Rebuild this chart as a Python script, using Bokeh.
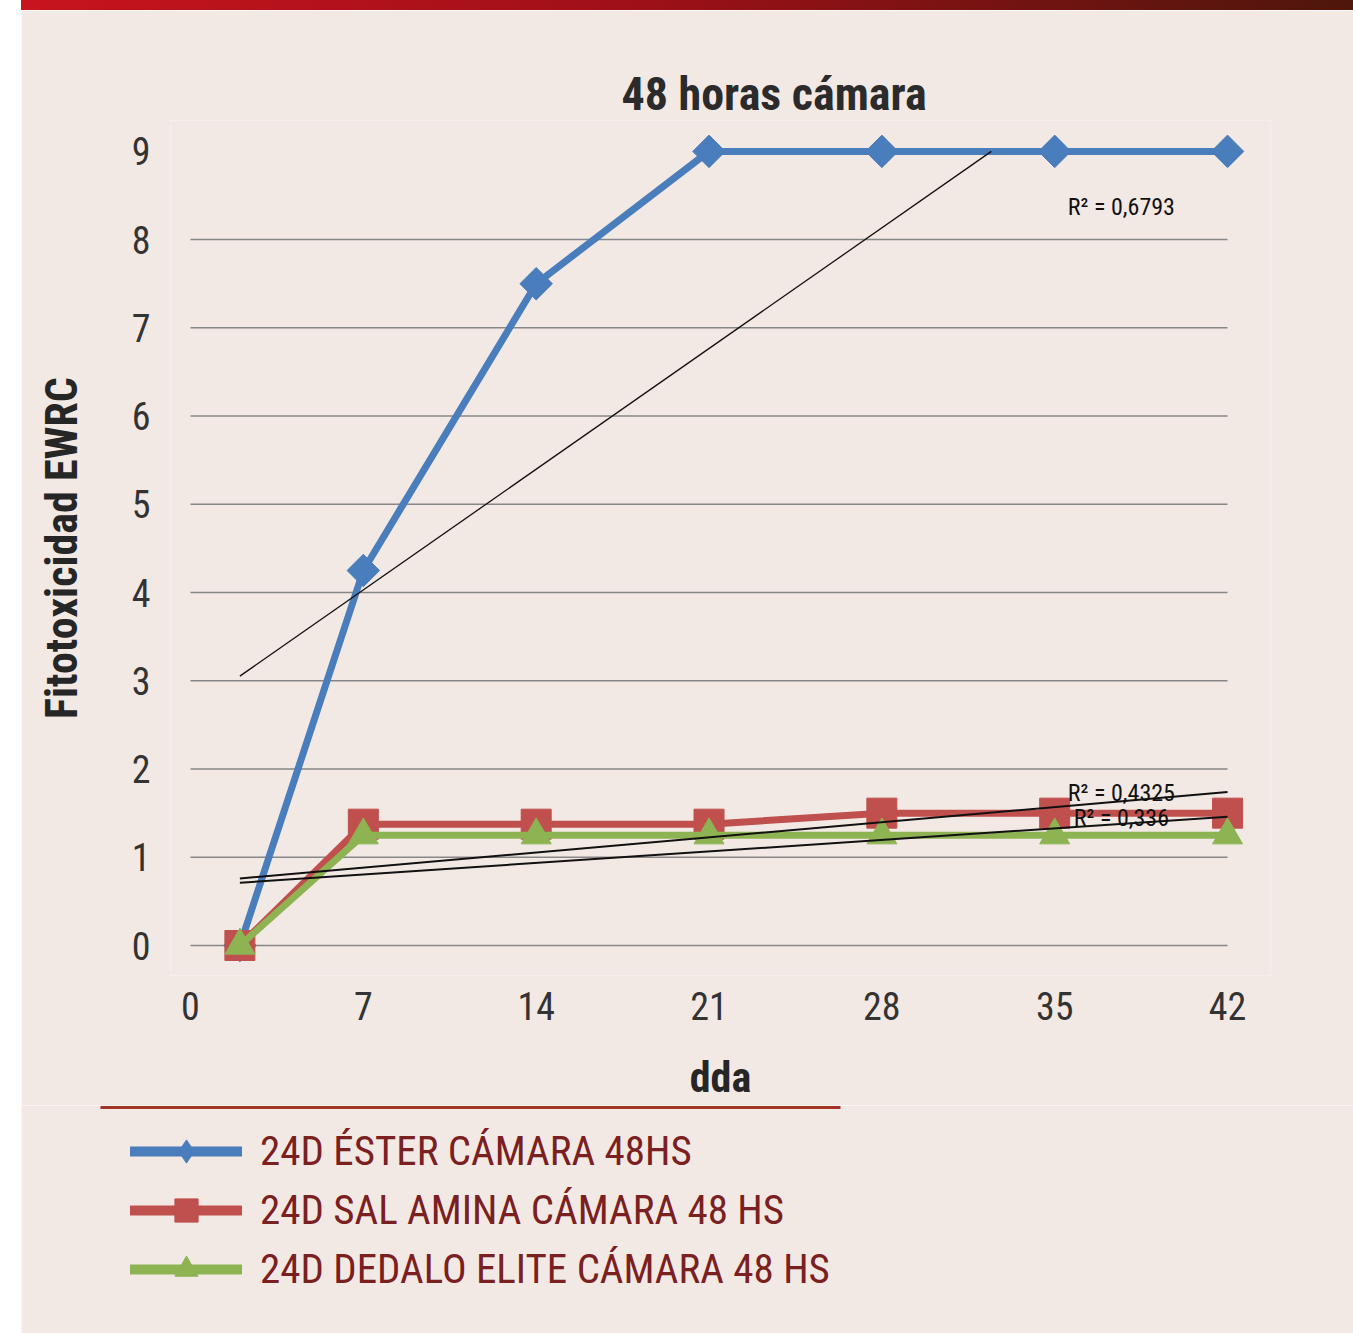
import numpy as np
from bokeh.plotting import figure
from bokeh.layouts import column
from bokeh.models import Range1d, FixedTicker, Legend, LegendItem, Title, Div
from bokeh.embed import file_html
from bokeh.resources import INLINE
from bokeh.core.properties import value

# ---- data ----
dda = [2, 7, 14, 21, 28, 35, 42]
ester = [0, 4.25, 7.5, 9, 9, 9, 9]
amina = [0, 1.375, 1.375, 1.375, 1.5, 1.5, 1.5]
dedalo = [0, 1.25, 1.25, 1.25, 1.25, 1.25, 1.25]
series_names = ["24D ÉSTER CÁMARA 48HS", "24D SAL AMINA CÁMARA 48 HS", "24D DEDALO ELITE CÁMARA 48 HS"]
r2_labels = ["R² = 0,6793", "R² = 0,4325", "R² = 0,336"]
x_ticks = [0, 7, 14, 21, 28, 35, 42]
y_ticks = [0, 1, 2, 3, 4, 5, 6, 7, 8, 9]
grid_vals = [0, 1, 2, 3, 4, 5, 6, 7, 8]

# ---- style ----
BG = "#f2e9e5"
FONT = "'Roboto Condensed', 'DejaVu Sans Condensed', 'Liberation Sans', sans-serif"
colors = ["#4a7dbb", "#c0504d", "#8db352"]
markers = ["square", "square", "triangle"]
legend_markers = ["diamond", "square", "triangle"]
angles = [np.pi / 4, 0, 0]
sizes = [23, 30, 30]
W = 1332
HBAR = 10
HA = 1095
HB = 228

bar = Div(text="", width=W, height=HBAR, margin=0,
          styles={"background": "linear-gradient(90deg, #c8141e 0%, #a01018 45%, #4e160c 100%)"})

p = figure(width=W, height=HA, output_backend="svg", toolbar_location=None,
           x_range=Range1d(-0.81, 43.74), y_range=Range1d(-0.34, 9.35),
           min_border_left=149, min_border_right=83, min_border_top=110, min_border_bottom=130)
p.background_fill_color = BG
p.border_fill_color = BG
p.outline_line_color = None
p.grid.visible = False

p.title = Title(text="48 horas cámara", align="left", offset=451, standoff=0,
                text_font=FONT, text_font_size="46px", text_font_style="bold", text_color="#2b2b2b")

for ax, ticks in ((p.xaxis[0], x_ticks), (p.yaxis[0], y_ticks)):
    ax.ticker = FixedTicker(ticks=ticks)
    ax.axis_line_color = None
    ax.major_tick_line_color = None
    ax.minor_tick_line_color = None
    ax.major_label_text_font = FONT
    ax.major_label_text_font_size = "38px"
    ax.major_label_text_color = "#333333"
    ax.axis_label_text_font_style = "bold"
    ax.axis_label_text_font = FONT
    ax.axis_label_text_color = "#262626"
p.xaxis.axis_label = "dda"
p.xaxis.axis_label_text_font_size = "42px"
p.xaxis.major_label_standoff = 10
p.xaxis.axis_label_standoff = 30
p.yaxis.axis_label = "Fitotoxicidad EWRC"
p.yaxis.axis_label_text_font_size = "44px"
p.yaxis.major_label_standoff = 14
p.yaxis.axis_label_standoff = 41

# gridlines
p.segment(x0=[x_ticks[0]] * len(grid_vals), x1=[x_ticks[-1]] * len(grid_vals),
          y0=grid_vals, y1=grid_vals, line_color="#878787", line_width=1.5)

# series
series = (ester, amina, dedalo)
for ys, c, mk, ang, sz in zip(series, colors, markers, angles, sizes):
    p.line(dda, ys, line_color=c, line_width=7, line_join="round", line_cap="round")
    p.scatter(dda, ys, marker=mk, angle=ang, size=sz, fill_color=c, line_color=c)

# linear trendlines (least squares on the data)
ymax = y_ticks[-1]
trend_widths = [1.3, 2, 2]
for ys, w in zip(series, trend_widths):
    m, b = np.polyfit(dda, ys, 1)
    x0, x1 = dda[0], dda[-1]
    if m * x1 + b > ymax:
        x1 = (ymax - b) / m
    p.line([x0, x1], [m * x0 + b, m * x1 + b], line_color="#111111", line_width=w)

p.text(x=[37.7, 37.7, 37.7], y=[8.37, 1.73, 1.44], text=r2_labels, text_align="center",
       text_baseline="middle", text_font=value(FONT), text_font_size="24px", text_color="#111111")

# ---- legend panel ----
q = figure(width=W, height=HB, output_backend="svg", toolbar_location=None,
           x_range=Range1d(0, W), y_range=Range1d(0, HB),
           min_border_left=0, min_border_right=0, min_border_top=0, min_border_bottom=0)
q.frame_align = False
q.background_fill_color = BG
q.border_fill_color = BG
q.outline_line_color = None
q.axis.visible = False
q.grid.visible = False

# separator rule
q.segment(x0=[79], x1=[819], y0=[HB - 2], y1=[HB - 2], line_color="#a33426", line_width=3)

items = []
for ys, c, mk, name in zip(series, colors, legend_markers, series_names):
    lr = q.line(dda, ys, line_color=c, line_width=10, line_cap="round", visible=False)
    sr = q.scatter(dda, ys, marker=mk, fill_color=c, line_color=c, visible=False)
    items.append(LegendItem(label=name, renderers=[lr, sr]))

legend = Legend(items=items, location=(109, 35), glyph_width=112, glyph_height=58, spacing=1,
                label_standoff=18, label_text_font=FONT, label_text_font_size="41px",
                label_text_color="#7a2020", border_line_color=None, background_fill_alpha=0,
                padding=10, margin=0, click_policy="none")
q.add_layout(legend, "center")

layout = column(bar, p, q, spacing=0, margin=(0, 0, 0, 21))
open("out.html", "w").write(file_html(layout, INLINE))
